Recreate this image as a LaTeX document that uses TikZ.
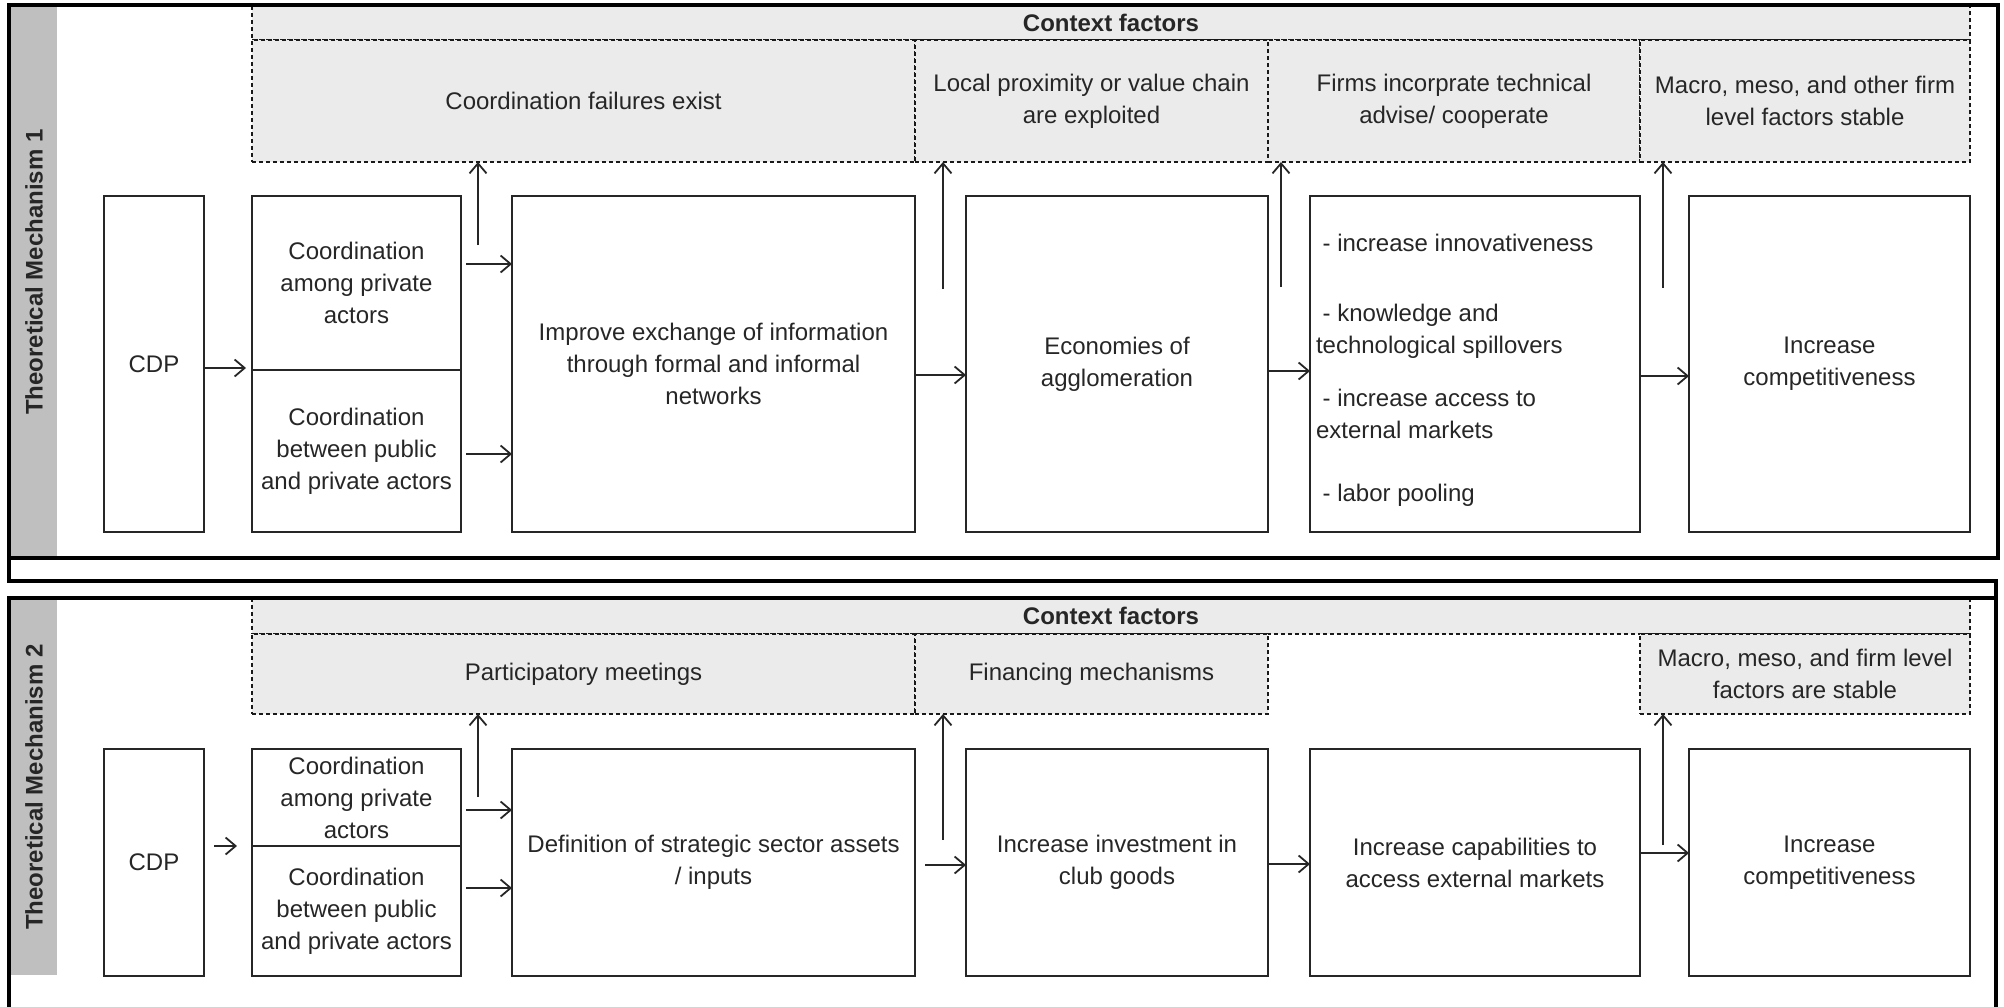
\documentclass[tikz,border=0pt]{standalone}
\usepackage{fontspec}
\setmainfont{Liberation Sans}
\usetikzlibrary{arrows.meta}

\begin{document}
\begin{tikzpicture}[x=0.5pt,y=-0.5pt,
    every node/.style={font=\fontsize{12}{16}\selectfont,text=black!85,inner sep=0pt,outer sep=0pt},
    box/.style={draw=black!85,line width=0.9pt,align=center},
    ctx/.style={draw=black!90,fill=black!8,line width=0.9pt,dash pattern=on 2pt off 1.5pt,align=center},
    head/.style={font=\fontsize{12}{16}\selectfont\bfseries},
    side/.style={rotate=90,font=\fontsize{12}{16}\selectfont\bfseries},
    arr/.style={-{Straight Barb[length=5pt,width=8.5pt]},line width=0.9pt,black!85},
    frame/.style={line width=1.6pt}]
  \useasboundingbox (0,0) rectangle (2004,1007);
  \fill[black!25] (11,6) rectangle (57,557);
  \fill[black!25] (11,600) rectangle (57,975);
  \node[side] (labA) at (34,272) {Theoretical Mechanism 1};
  \node[side] (labB) at (34,787) {Theoretical Mechanism 2};

  \node[ctx,head,minimum width=859pt,minimum height=17.5pt] (ctxA) at (1111,22.5) {Context factors};
  \node[ctx,minimum width=331.5pt,minimum height=61pt] (failA) at (583.5,101) {Coordination failures exist};
  \node[ctx,minimum width=176.5pt,minimum height=61pt] (proxA) at (1091.5,101) {Local proximity or value chain\\are exploited};
  \node[ctx,minimum width=186pt,minimum height=61pt] (advA) at (1454,101) {Firms incorprate technical\\advise/ cooperate};
  \node[ctx,minimum width=165pt,minimum height=61pt] (macroA) at (1805,101) {Macro, meso, and other firm\\level factors stable};

  \node[box,minimum width=50pt,minimum height=168pt] (cdpA) at (154,364) {CDP};
  \node[box,minimum width=104.5pt,minimum height=87pt] (coAtop) at (356.5,283) {Coordination\\among private\\actors};
  \node[box,minimum width=104.5pt,minimum height=81pt] (coAbot) at (356.5,451) {Coordination\\between public\\and private actors};
  \node[box,minimum width=201.5pt,minimum height=168pt] (infoA) at (713.5,364) {Improve exchange of information\\through formal and informal\\networks};
  \node[box,minimum width=151pt,minimum height=168pt] (aggA) at (1117,364) {Economies of\\agglomeration};
  \node[box,minimum width=165pt,minimum height=168pt] (effA) at (1475,364) {};
  \node[anchor=west,align=left] (effA1) at (1316,243) {\ - increase innovativeness};
  \node[anchor=west,align=left] (effA2) at (1316,331) {\ - knowledge and\\technological spillovers};
  \node[anchor=west,align=left] (effA3) at (1316,414) {\ - increase access to\\external markets};
  \node[anchor=west,align=left] (effA4) at (1316,495) {\ - labor pooling};
  \node[box,minimum width=140.5pt,minimum height=168pt] (compA) at (1829.5,364) {Increase\\competitiveness};

  \draw[arr,shorten <=0.5pt,shorten >=3pt] ([yshift=-2pt]cdpA.east) -- ([yshift=-2pt]cdpA.east -| coAbot.west);
  \draw[arr,shorten <=2.5pt] ([yshift=9.5pt]coAtop.east) -- ([yshift=9.5pt]coAtop.east -| infoA.west);
  \draw[arr,shorten <=2.5pt] ([yshift=-1.5pt]coAbot.east) -- ([yshift=-1.5pt]coAbot.east -| infoA.west);
  \draw[arr] ([yshift=-5.5pt]infoA.east) -- ([yshift=-5.5pt]infoA.east -| aggA.west);
  \draw[arr] ([yshift=-3.5pt]aggA.east) -- ([yshift=-3.5pt]aggA.east -| effA.west);
  \draw[arr] ([yshift=-6pt]effA.east) -- ([yshift=-6pt]effA.east -| compA.west);
  \coordinate (upA1) at (478,245);
  \coordinate (upA2) at (943,289);
  \coordinate (upA3) at (1281,287);
  \coordinate (upA4) at (1663,288);
  \draw[arr] (upA1) -- (upA1 |- failA.south);
  \draw[arr] (upA2) -- (upA2 |- proxA.south);
  \draw[arr] (upA3) -- (upA3 |- advA.south);
  \draw[arr] (upA4) -- (upA4 |- macroA.south);

  \node[ctx,head,minimum width=859pt,minimum height=18pt] (ctxB) at (1111,616) {Context factors};
  \node[ctx,minimum width=331.5pt,minimum height=40pt] (meetB) at (583.5,674) {Participatory meetings};
  \node[ctx,minimum width=176.5pt,minimum height=40pt] (finB) at (1091.5,674) {Financing mechanisms};
  \node[ctx,minimum width=165pt,minimum height=40pt] (macroB) at (1805,674) {Macro, meso, and firm level\\factors are stable};

  \node[box,minimum width=50pt,minimum height=113.5pt] (cdpB) at (154,862.5) {CDP};
  \node[box,minimum width=104.5pt,minimum height=48.5pt] (coBtop) at (356.5,797.5) {Coordination\\among private\\actors};
  \node[box,minimum width=104.5pt,minimum height=65pt] (coBbot) at (356.5,911) {Coordination\\between public\\and private actors};
  \node[box,minimum width=201.5pt,minimum height=113.5pt] (defB) at (713.5,862.5) {Definition of strategic sector assets\\/ inputs};
  \node[box,minimum width=151pt,minimum height=113.5pt] (investB) at (1117,862.5) {Increase investment in\\club goods};
  \node[box,minimum width=165pt,minimum height=113.5pt] (capB) at (1475,862.5) {Increase capabilities to\\access external markets};
  \node[box,minimum width=140.5pt,minimum height=113.5pt] (compB) at (1829.5,862.5) {Increase\\competitiveness};

  \draw[arr,shorten <=5pt,shorten >=7.5pt] (cdpB.east |- coBbot.north) -- (coBbot.north west);
  \draw[arr,shorten <=2.5pt] ([yshift=-6.25pt]coBtop.east) -- ([yshift=-6.25pt]coBtop.east -| defB.west);
  \draw[arr,shorten <=2.5pt] ([yshift=11.5pt]coBbot.east) -- ([yshift=11.5pt]coBbot.east -| defB.west);
  \draw[arr,shorten <=5pt] ([yshift=-1.25pt]defB.east) -- ([yshift=-1.25pt]defB.east -| investB.west);
  \draw[arr] ([yshift=-0.75pt]investB.east) -- ([yshift=-0.75pt]investB.east -| capB.west);
  \draw[arr] ([yshift=4.75pt]capB.east) -- ([yshift=4.75pt]capB.east -| compB.west);
  \coordinate (upB1) at (478,797);
  \coordinate (upB2) at (943,840);
  \coordinate (upB3) at (1663,845);
  \draw[arr] (upB1) -- (upB1 |- meetB.south);
  \draw[arr] (upB2) -- (upB2 |- finB.south);
  \draw[arr] (upB3) -- (upB3 |- macroB.south);

  \draw[frame] (9,5) rectangle (1998,558);
  \draw[frame] (9,558) -- (9,581) -- (1996,581) -- (1996,1010);
  \draw[frame] (1996,598) -- (9,598) -- (9,1010);
\end{tikzpicture}
\end{document}
